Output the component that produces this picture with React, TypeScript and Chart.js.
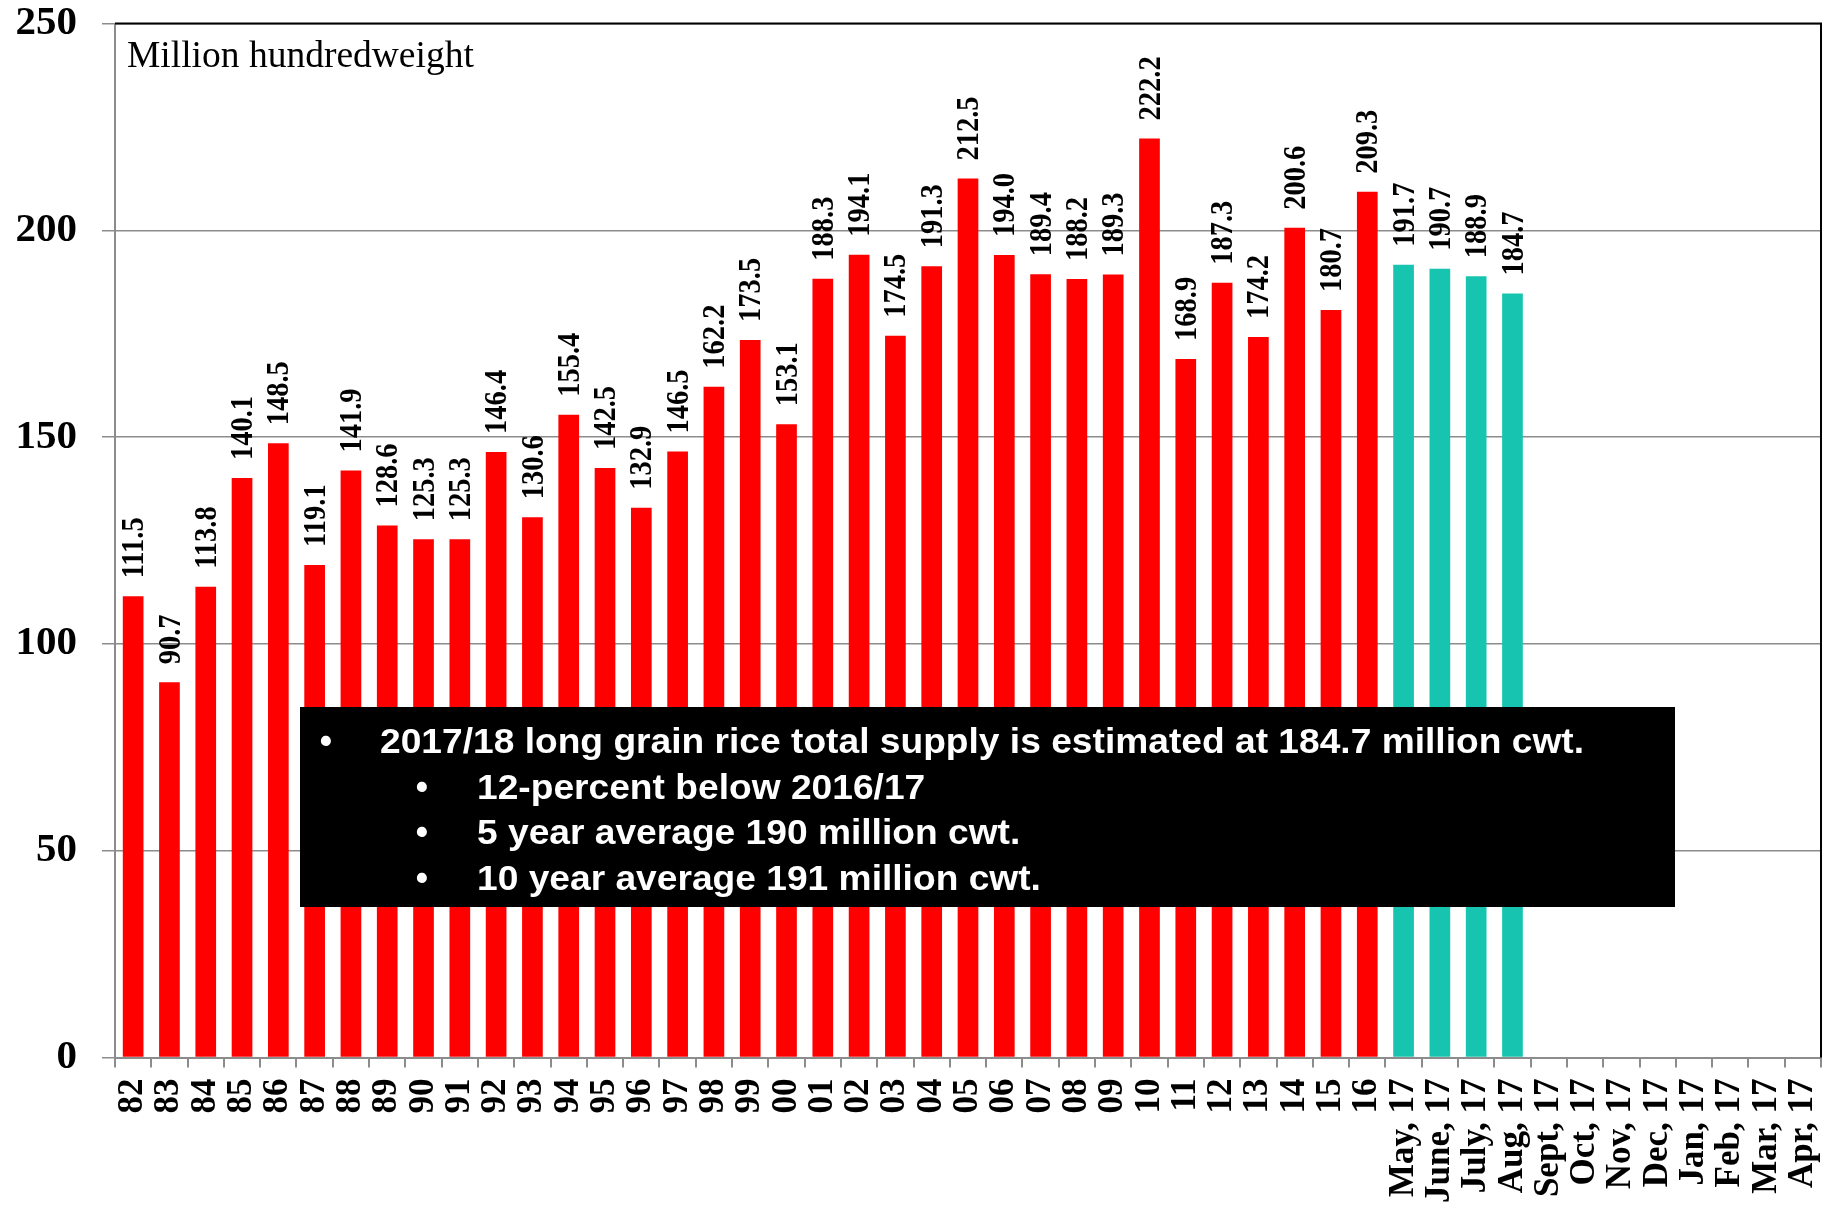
import React, { useEffect, useRef } from 'react';
import { Chart, registerables } from 'chart.js';

Chart.register(...registerables);

const years = [
  '82', '83', '84', '85', '86', '87', '88', '89', '90', '91', '92', '93', '94', '95', '96', '97', '98', '99',
  '00', '01', '02', '03', '04', '05', '06', '07', '08', '09', '10', '11', '12', '13', '14', '15', '16',
];
const months = [
  'May, 17', 'June, 17', 'July, 17', 'Aug, 17', 'Sept, 17', 'Oct, 17',
  'Nov, 17', 'Dec, 17', 'Jan, 17', 'Feb, 17', 'Mar, 17', 'Apr, 17',
];
const annualSupply = [
  111.5, 90.7, 113.8, 140.1, 148.5, 119.1, 141.9, 128.6, 125.3, 125.3, 146.4, 130.6, 155.4, 142.5, 132.9, 146.5,
  162.2, 173.5, 153.1, 188.3, 194.1, 174.5, 191.3, 212.5, 194.0, 189.4, 188.2, 189.3, 222.2, 168.9, 187.3, 174.2,
  200.6, 180.7, 209.3,
];
const monthlyEstimates = [191.7, 190.7, 188.9, 184.7];
const yTicks = [0, 50, 100, 150, 200, 250];
const unitLabel = 'Million hundredweight';
const boxLines = [
  { level: 0, text: '2017/18 long grain rice total supply is estimated at 184.7 million cwt.' },
  { level: 1, text: '12-percent below 2016/17' },
  { level: 1, text: '5 year average 190 million cwt.' },
  { level: 1, text: '10 year average 191 million cwt.' },
];

const RED = '#FF0000';
const TEAL = '#17C4B0';
const GRAY = '#8C8C8C';
const SERIF = '"Liberation Serif", "Times New Roman", serif';
const SANS = '"Liberation Sans", Arial, sans-serif';

const overlayPlugin = {
  id: 'overlay',
  afterDatasetsDraw(chart: any) {
    const ctx = chart.ctx;
    const area = chart.chartArea;
    // data labels
    chart.data.datasets.forEach((ds: any, di: number) => {
      const meta = chart.getDatasetMeta(di);
      meta.data.forEach((el: any, i: number) => {
        const v = ds.data[i];
        if (v === null || v === undefined) return;
        ctx.save();
        ctx.translate(el.x + 2, el.y - 18);
        ctx.rotate(-Math.PI / 2);
        ctx.scale(1, 1.1);
        ctx.textAlign = 'left';
        ctx.textBaseline = 'middle';
        ctx.fillStyle = '#000';
        ctx.font = `bold 28.5px ${SERIF}`;
        ctx.fillText(Number(v).toFixed(1), 0, 0);
        ctx.restore();
      });
    });
    // top and right border
    ctx.save();
    ctx.strokeStyle = '#000';
    ctx.lineWidth = 2;
    ctx.beginPath();
    ctx.moveTo(area.left, area.top);
    ctx.lineTo(area.right, area.top);
    ctx.lineTo(area.right, area.bottom);
    ctx.stroke();
    ctx.restore();
    // unit label
    ctx.save();
    ctx.fillStyle = '#000';
    ctx.font = `37.5px ${SERIF}`;
    ctx.textAlign = 'left';
    ctx.textBaseline = 'alphabetic';
    ctx.fillText(unitLabel, area.left + 12, area.top + 43);
    ctx.restore();
    // black text box
    const bx = 300, by = 707, bw = 1375, bh = 200;
    ctx.save();
    ctx.fillStyle = '#000';
    ctx.fillRect(bx, by, bw, bh);
    ctx.fillStyle = '#fff';
    ctx.font = `bold 35px ${SANS}`;
    ctx.textBaseline = 'alphabetic';
    const w0 = ctx.measureText(boxLines[0].text).width;
    const sx = 1204 / w0;
    boxLines.forEach((ln, i) => {
      const baseY = by + 46 + i * 45.6;
      const bulletX = ln.level === 0 ? 326 : 422;
      const textX = ln.level === 0 ? 380 : 477;
      ctx.textAlign = 'center';
      ctx.fillText('\u2022', bulletX, baseY);
      ctx.save();
      ctx.translate(textX, baseY);
      ctx.scale(sx, 1);
      ctx.textAlign = 'left';
      ctx.fillText(ln.text, 0, 0);
      ctx.restore();
    });
    ctx.restore();
  },
};

export default function App() {
  const ref = useRef<HTMLCanvasElement>(null);
  useEffect(() => {
    const canvas = ref.current;
    if (!canvas) return;
    const labels = [...years, ...months];
    const annual = [...annualSupply, ...months.map(() => null)];
    const monthly = [
      ...years.map(() => null),
      ...monthlyEstimates,
      ...months.slice(monthlyEstimates.length).map(() => null),
    ];
    const chart = new Chart(canvas, {
      type: 'bar',
      data: {
        labels,
        datasets: [
          { label: 'Annual', data: annual, backgroundColor: RED, grouped: false, barPercentage: 0.57, categoryPercentage: 1 } as any,
          { label: 'Monthly', data: monthly, backgroundColor: TEAL, grouped: false, barPercentage: 0.57, categoryPercentage: 1 } as any,
        ],
      },
      options: {
        responsive: false,
        animation: false,
        layout: { padding: { top: 23.5, right: 18, left: 0, bottom: 0 } },
        plugins: { legend: { display: false }, tooltip: { enabled: false } },
        scales: {
          x: {
            offset: true,
            grid: { display: true, drawOnChartArea: false, drawTicks: true, tickLength: 10, offset: true, color: GRAY, tickColor: GRAY, lineWidth: 2 },
            border: { display: true, color: GRAY, width: 2 },
            ticks: { autoSkip: false, maxRotation: 90, minRotation: 90, padding: 11, color: '#000', font: { family: SERIF, size: 35, weight: 'bold' } },
            afterFit: (s: any) => {
              s.height = 150.5;
              s.paddingLeft = 0; s.paddingRight = 0; s.paddingTop = 0; s.paddingBottom = 0;
            },
          },
          y: {
            min: 0,
            max: 250,
            afterBuildTicks: (s: any) => { s.ticks = yTicks.map((v) => ({ value: v })); },
            grid: { color: GRAY, lineWidth: 1.5, tickLength: 13, tickColor: GRAY },
            border: { display: true, color: GRAY, width: 2 },
            ticks: { padding: 25, color: '#000', font: { family: SERIF, size: 41, weight: 'bold' } },
            afterFit: (s: any) => {
              s.width = 115;
              s.paddingLeft = 0; s.paddingRight = 0; s.paddingTop = 0; s.paddingBottom = 0;
            },
          },
        },
      } as any,
      plugins: [overlayPlugin],
    });
    return () => chart.destroy();
  }, []);
  return (
    <div style={{ position: 'fixed', left: 0, top: 0, width: 1839, height: 1208, background: '#fff' }}>
      <canvas ref={ref} width={1839} height={1208} style={{ display: 'block', width: 1839, height: 1208 }} />
    </div>
  );
}
